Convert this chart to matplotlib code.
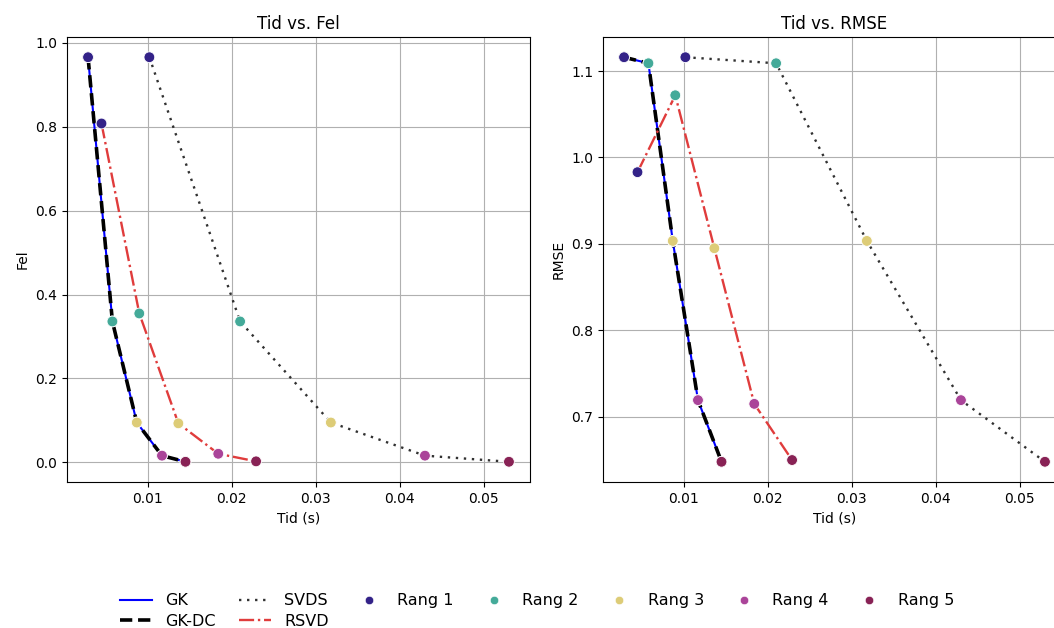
import matplotlib
matplotlib.use("Agg")
import matplotlib.pyplot as plt
from matplotlib.lines import Line2D

# Rank labels and colours
ranks = ["Rang 1", "Rang 2", "Rang 3", "Rang 4", "Rang 5"]
rank_colors = ["#332288", "#44AA99", "#DDCC77", "#AA4499", "#882255"]

# Run times (s) per method and rank
tid_gk = [0.0029, 0.0058, 0.0087, 0.0117, 0.0145]
tid_gkdc = [0.0029, 0.0058, 0.0087, 0.0117, 0.0145]
tid_svds = [0.0102, 0.0210, 0.0318, 0.0430, 0.0530]
tid_rsvd = [0.0045, 0.0090, 0.01365, 0.0184, 0.0229]

# Approximation error per method and rank
fel_gk = [0.966, 0.336, 0.095, 0.016, 0.0014]
fel_gkdc = [0.966, 0.336, 0.095, 0.016, 0.0014]
fel_svds = [0.966, 0.336, 0.095, 0.016, 0.0014]
fel_rsvd = [0.808, 0.355, 0.093, 0.0205, 0.0024]

# RMSE per method and rank
rmse_gk = [1.116, 1.109, 0.9035, 0.7193, 0.648]
rmse_gkdc = [1.116, 1.109, 0.9035, 0.7193, 0.648]
rmse_svds = [1.116, 1.109, 0.9035, 0.7193, 0.648]
rmse_rsvd = [0.983, 1.072, 0.895, 0.715, 0.650]

methods = [
    ("GK", tid_gk, fel_gk, rmse_gk, dict(color="blue", lw=1.5, ls="-")),
    ("GK-DC", tid_gkdc, fel_gkdc, rmse_gkdc, dict(color="black", lw=2.6, ls=(0, (3.4, 1.6)))),
    ("SVDS", tid_svds, fel_svds, rmse_svds, dict(color="#1a1a1a", lw=1.7, ls=(0, (1, 2.4)), alpha=0.9)),
    ("RSVD", tid_rsvd, fel_rsvd, rmse_rsvd, dict(color="#e03c3c", lw=1.7, ls="-.")),
]

fig = plt.figure(figsize=(10.54, 6.28), dpi=100)
W, H = 1054, 628
ax_w = 463 / W
ax_h = (482 - 37) / H
ax1 = fig.add_axes([67 / W, 1 - 482 / H, ax_w, ax_h])
ax2 = fig.add_axes([603 / W, 1 - 482 / H, ax_w, ax_h])

for ax, idx, title, ylabel in [(ax1, 2, "Tid vs. Fel", "Fel"),
                               (ax2, 3, "Tid vs. RMSE", "RMSE")]:
    for name, t, fel, rmse, style in methods:
        vals = fel if idx == 2 else rmse
        ax.plot(t, vals, zorder=2, **style)
    for name, t, fel, rmse, style in methods:
        vals = fel if idx == 2 else rmse
        ax.scatter(t, vals, c=rank_colors, s=60, edgecolors="white",
                   linewidths=0.6, zorder=3)
    ax.set_title(title, fontsize=12)
    ax.set_xlabel("Tid (s)")
    ax.set_ylabel(ylabel)
    ax.grid(True, color="#b0b0b0", lw=0.8)
    ax.set_axisbelow(True)

ax1.set_xticks([0.01, 0.02, 0.03, 0.04, 0.05])
ax2.set_xticks([0.01, 0.02, 0.03, 0.04, 0.05])

# Legend: line styles first, then rank colours
handles = []
labels = []
for name, t, fel, rmse, style in methods:
    handles.append(Line2D([], [], **style))
    labels.append(name)
blank = Line2D([], [], linestyle="none")
for r, c in zip(ranks, rank_colors):
    handles.append(Line2D([], [], marker="o", linestyle="none",
                          markerfacecolor=c, markeredgecolor="white",
                          markeredgewidth=0.4, markersize=6))
    labels.append(r)
    handles.append(blank)
    labels.append("")

fig.legend(handles, labels, ncol=7, loc="center",
           bbox_to_anchor=(537 / W, 1 - 611 / H), frameon=False,
           fontsize=11.5, handlelength=2.0, handletextpad=0.8,
           columnspacing=1.5, labelspacing=0.35)

fig.savefig("out.png", dpi=100)
